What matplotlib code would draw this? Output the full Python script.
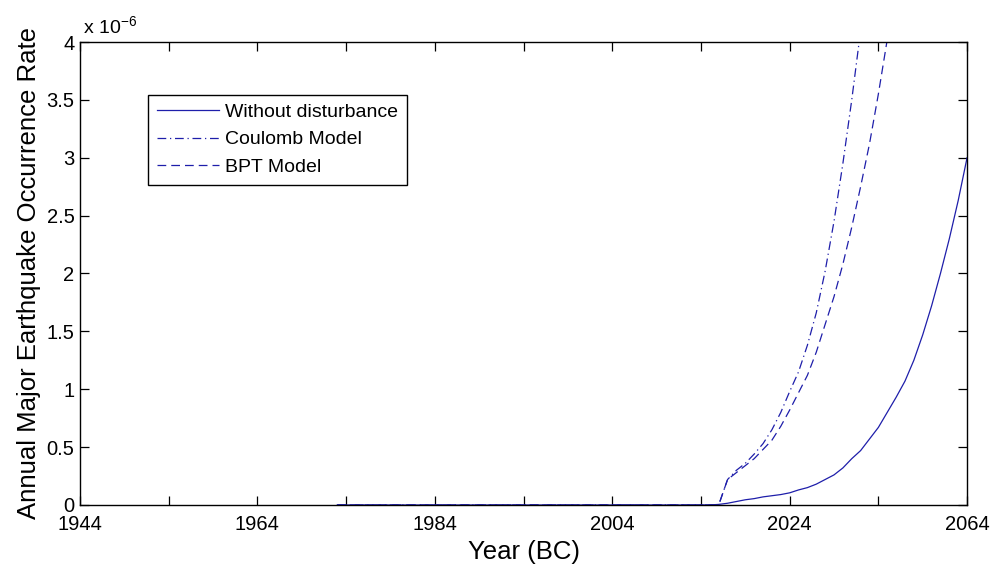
import numpy as np
import matplotlib
matplotlib.use("Agg")
import matplotlib.pyplot as plt
from matplotlib.ticker import FixedLocator, FuncFormatter

plt.rcParams['font.family'] = ['Liberation Sans', 'DejaVu Sans']
plt.rcParams['mathtext.fontset'] = 'custom'
plt.rcParams['mathtext.rm'] = 'Liberation Sans'

# rates are in units of 1e-6 per year
years_base = [1973, 2015, 2016, 2017, 2018, 2019, 2020, 2021, 2022, 2023, 2024,
              2025, 2026, 2027, 2028, 2029, 2030, 2031, 2032, 2033, 2034,
              2035, 2036, 2037, 2038, 2039, 2040, 2041, 2042, 2043, 2044]
rate_base = [0, 0, 0.005, 0.015, 0.03, 0.045, 0.055, 0.07, 0.08, 0.09, 0.105,
             0.13, 0.15, 0.18, 0.22, 0.26, 0.32, 0.40, 0.47, 0.57, 0.67,
             0.80, 0.93, 1.07, 1.25, 1.47, 1.72, 2.00, 2.30, 2.63, 3.00]

years_coulomb = [1973, 2016, 2017, 2018, 2019, 2020, 2021, 2022, 2023, 2024,
                 2025, 2026, 2027, 2028, 2029, 2030, 2031, 2032, 2033]
rate_coulomb = [0, 0, 0.22, 0.30, 0.36, 0.44, 0.53, 0.65, 0.80, 0.98,
                1.15, 1.38, 1.66, 2.02, 2.45, 2.95, 3.50, 4.10, 4.75]

years_bpt = [1973, 2016, 2017, 2018, 2019, 2020, 2021, 2022, 2023, 2024,
             2025, 2026, 2027, 2028, 2029, 2030, 2031, 2032, 2033, 2034,
             2035, 2036]
rate_bpt = [0, 0, 0.22, 0.28, 0.34, 0.40, 0.48, 0.56, 0.68, 0.82,
            0.97, 1.12, 1.32, 1.56, 1.80, 2.08, 2.40, 2.75, 3.12, 3.55,
            4.02, 4.55]

xtick_pos = [1944, 1964, 1984, 2004, 2024, 2044]
xtick_labels = ['1944', '1964', '1984', '2004', '2024', '2064']
ytick_vals = [0, 0.5, 1, 1.5, 2, 2.5, 3, 3.5, 4]

line_color = '#1e1eaa'

fig = plt.figure(figsize=(9.94, 5.73), dpi=100)
ax = fig.add_axes([0.0805, 0.1187, 0.8924, 0.808])

ax.plot(years_base, np.array(rate_base) * 1e-6, '-', color=line_color,
        lw=0.9, label='Without disturbance')
ax.plot(years_coulomb, np.array(rate_coulomb) * 1e-6, '-.', color=line_color,
        lw=0.9, label='Coulomb Model', dashes=(7, 3, 1, 3))
ax.plot(years_bpt, np.array(rate_bpt) * 1e-6, '--', color=line_color,
        lw=0.9, label='BPT Model', dashes=(7, 4))

ax.set_xlim(1944, 2044)
ax.set_ylim(0, 4e-6)

ax.xaxis.set_major_locator(FixedLocator(xtick_pos))
ax.set_xticklabels(xtick_labels)
ax.xaxis.set_minor_locator(FixedLocator(np.arange(1954, 2044, 20)))
ax.yaxis.set_major_locator(FixedLocator([v * 1e-6 for v in ytick_vals]))
ax.yaxis.set_major_formatter(FuncFormatter(lambda v, p: '%g' % round(v * 1e6, 3)))

ax.tick_params(which='both', direction='in', top=True, right=True,
               labelsize=14.5, length=6.5, width=0.9, pad=4)
ax.tick_params(axis='x', which='major', pad=7.5)
ax.tick_params(which='minor', length=6.5)
for s in ax.spines.values():
    s.set_linewidth(1.0)

ax.set_xlabel('Year (BC)', fontsize=18.5, labelpad=4)
ax.set_ylabel('Annual Major Earthquake Occurrence Rate', fontsize=18.5, labelpad=4)

ax.text(0.003, 1.008, r'x 10$^{\mathregular{-6}}$', transform=ax.transAxes,
        fontsize=14, ha='left', va='bottom')

leg = ax.legend(loc='upper left', bbox_to_anchor=(0.077, 0.886), borderaxespad=0,
                fontsize=14, handlelength=3.2, handletextpad=0.3, labelspacing=0.5,
                borderpad=0.45, fancybox=False, framealpha=1, edgecolor='black')
leg.get_frame().set_linewidth(1.0)

fig.savefig('out.png', dpi=100, facecolor='white')
